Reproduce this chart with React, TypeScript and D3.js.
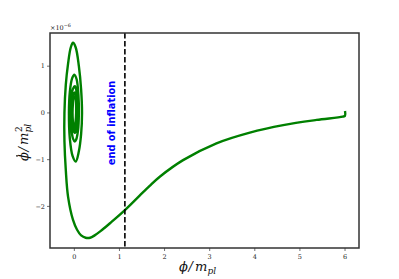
import React from "react";
import * as d3 from "d3";

// trajectory in phase space: phi / m_pl  and  phidot / m_pl^2 (units of 1e-6)
const phi = [
  6.0, 6.0, 5.95, 5.37, 4.63, 3.89, 3.15, 2.41, 1.9, 1.67, 1.53, 1.12, 0.79, 0.58, 0.45, 0.35, 0.25, 0.15, 0.06,
  -0.03, -0.14, -0.19, -0.22, -0.22, -0.19, -0.14, -0.08, -0.03, 0.03, 0.1, 0.15, 0.17, 0.15, 0.1, 0.03,
  -0.04, -0.1, -0.12, -0.1, -0.05, 0.0, 0.05, 0.09, 0.1, 0.08, 0.04, 0.01,
  -0.03, -0.07, -0.08, -0.07, -0.03, 0.01, 0.04, 0.065, 0.07, 0.06, 0.03, 0.01,
  -0.02, -0.05, -0.055, -0.05, -0.02, 0.01, 0.035, 0.05, 0.05, 0.04, 0.02, 0.0,
  -0.02, -0.035, -0.04, -0.035, -0.015, 0.01, 0.03, 0.04, 0.035, 0.015,
];
const phiDot = [
  0.04, -0.06, -0.08, -0.15, -0.26, -0.42, -0.65, -1.01, -1.36, -1.56, -1.69, -2.08, -2.36, -2.53, -2.62, -2.67, -2.67, -2.62, -2.5,
  -2.29, -1.79, -1.22, -0.6, 0.0, 0.6, 1.05, 1.4, 1.5, 1.4, 1.0, 0.5, 0.0, -0.45, -0.82, -1.04,
  -0.92, -0.55, 0.0, 0.45, 0.74, 0.82, 0.72, 0.38, 0.0, -0.38, -0.57, -0.61,
  -0.55, -0.3, 0.0, 0.3, 0.52, 0.57, 0.5, 0.25, 0.0, -0.25, -0.4, -0.43,
  -0.38, -0.2, 0.0, 0.2, 0.4, 0.44, 0.38, 0.2, 0.0, -0.2, -0.33, -0.35,
  -0.3, -0.15, 0.0, 0.15, 0.33, 0.36, 0.3, 0.1, -0.1, -0.28,
];

const xTicks = [0, 1, 2, 3, 4, 5, 6];
const yTicks = [-2, -1, 0, 1];
const xLimits = [-0.54, 6.31];
const yLimits = [-2.89, 1.71];
const endOfInflation = 1.12;

export default function App() {
  const W = 399, H = 279;
  const L = 50, R = 359, T = 33, B = 248;
  const x = d3.scaleLinear().domain(xLimits).range([L, R]);
  const y = d3.scaleLinear().domain(yLimits).range([B, T]);
  const pts: [number, number][] = phi.map((p, i) => [p, phiDot[i]]);
  const line = d3
    .line<[number, number]>()
    .x((d) => x(d[0]))
    .y((d) => y(d[1]))
    .curve(d3.curveCatmullRom.alpha(0.5));
  const tickFont = "DejaVu Serif";
  const mathFont = "DejaVu Serif";
  const xe = x(endOfInflation);
  return (
    <svg width={W} height={H} style={{ position: "absolute", left: 0, top: 0 }}>
      <rect x={0} y={0} width={W} height={H} fill="white" />
      <defs>
        <clipPath id="plotclip">
          <rect x={L} y={T} width={R - L} height={B - T} />
        </clipPath>
      </defs>
      <g clipPath="url(#plotclip)">
        <path d={line(pts) || ""} fill="none" stroke="green" strokeWidth={2.4} strokeLinejoin="round" />
        <line x1={xe} x2={xe} y1={T} y2={B} stroke="black" strokeWidth={1.6} strokeDasharray="5.5,2.5" />
      </g>
      <text
        transform={`translate(${xe - 10},${123}) rotate(-90)`}
        textAnchor="middle"
        fill="blue"
        fontFamily="DejaVu Sans"
        fontWeight="bold"
        fontSize={9.8}
      >
        end of inflation
      </text>
      {/* spines */}
      <rect x={L} y={T} width={R - L} height={B - T} fill="none" stroke="#333" strokeWidth={1.5} />
      {xTicks.map((t) => (
        <g key={"x" + t}>
          <line x1={x(t)} x2={x(t)} y1={B} y2={B + 3} stroke="#333" strokeWidth={0.7} />
          <text x={x(t)} y={B + 11} textAnchor="middle" fontFamily={tickFont} fontSize={6.5} fill="#222">
            {t}
          </text>
        </g>
      ))}
      {yTicks.map((t) => (
        <g key={"y" + t}>
          <line x1={L - 3} x2={L} y1={y(t)} y2={y(t)} stroke="#333" strokeWidth={0.7} />
          <text x={L - 5} y={y(t) + 2.3} textAnchor="end" fontFamily={tickFont} fontSize={6.5} fill="#222">
            {t < 0 ? "\u2212" + Math.abs(t) : t}
          </text>
        </g>
      ))}
      <text x={L} y={T - 3} fontFamily={tickFont} fontSize={6.5} fill="#222">
        ×10
        <tspan dy={-3} fontSize={4.8}>
          −6
        </tspan>
      </text>
      {/* x label */}
      <g transform="translate(179,271)" fill="#111" fontFamily={mathFont} fontStyle="italic">
        <text x={0} y={0} fontSize={13}>ϕ</text>
        <text x={9.5} y={0} fontSize={13}>/</text>
        <text x={16} y={0} fontSize={13}>m</text>
        <text x={28.5} y={3} fontSize={9}>pl</text>
      </g>
      {/* y label */}
      <g transform="translate(28,161) rotate(-90)" fill="#111" fontFamily={mathFont} fontStyle="italic">
        <text x={0} y={0} fontSize={13}>ϕ</text>
        <circle cx={5.2} cy={-11} r={0.9} fill="#111" />
        <text x={9.5} y={0} fontSize={13}>/</text>
        <text x={16} y={0} fontSize={13}>m</text>
        <text x={29} y={-6} fontSize={9} fontStyle="normal">2</text>
        <text x={28.5} y={3} fontSize={9}>pl</text>
      </g>
    </svg>
  );
}
